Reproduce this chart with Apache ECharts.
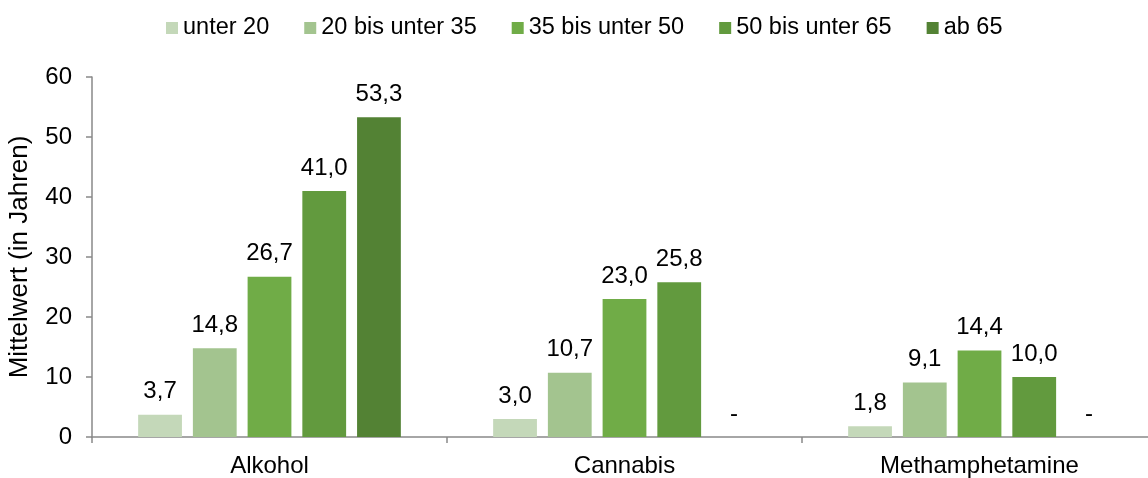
<!DOCTYPE html>
<html>
<head>
<meta charset="utf-8">
<script src="https://cdn.jsdelivr.net/npm/echarts@6/dist/echarts.min.js"></script>
<style>
  html, body { margin: 0; padding: 0; background: #fff; }
  #chart { width: 1148px; height: 478px; }
</style>
</head>
<body>
<div id="chart"></div>
<script>
// Substances on the x axis
const categories = ['Alkohol', 'Cannabis', 'Methamphetamine'];
// Age groups (legend entries)
const ageGroups = ['unter 20', '20 bis unter 35', '35 bis unter 50', '50 bis unter 65', 'ab 65'];
// Mean values (in years) per age group; null = no value ("-")
const unter20 = [3.7, 3.0, 1.8];
const von20bis35 = [14.8, 10.7, 9.1];
const von35bis50 = [26.7, 23.0, 14.4];
const von50bis65 = [41.0, 25.8, 10.0];
const ab65 = [53.3, null, null];
// Y axis ticks
const yTicks = [0, 10, 20, 30, 40, 50, 60];

const seriesValues = [unter20, von20bis35, von35bis50, von50bis65, ab65];
const colors = ['#c4d8b9', '#a3c48f', '#70ac47', '#629a3e', '#538234'];
const FONT = 'Liberation Sans, Arial, sans-serif';
const fmt = v => v.toFixed(1).replace('.', ',');

const chart = echarts.init(document.getElementById('chart'));
chart.setOption({
  animation: false,
  textStyle: { fontFamily: FONT, color: '#000' },
  legend: {
    left: 161,
    top: 11,
    itemWidth: 12,
    itemHeight: 12,
    itemGap: 35,
    icon: 'rect',
    textStyle: { fontFamily: FONT, fontSize: 23.5, color: '#000' },
    data: ageGroups
  },
  // plot area runs slightly past the right edge of the canvas
  grid: {
    left: 92, width: 1065, top: 77, bottom: 41,
    containLabel: false,
    outerBoundsMode: 'none'
  },
  xAxis: {
    type: 'category',
    data: categories,
    axisLine: { lineStyle: { color: '#898989', width: 1.5 } },
    axisTick: { show: true, length: 6, lineStyle: { color: '#898989', width: 1.5 } },
    axisLabel: { fontFamily: FONT, fontSize: 24, color: '#000', margin: 17 }
  },
  yAxis: {
    type: 'value',
    min: yTicks[0],
    max: yTicks[yTicks.length - 1],
    interval: yTicks[1] - yTicks[0],
    name: 'Mittelwert (in Jahren)',
    nameLocation: 'middle',
    nameGap: 59,
    nameTextStyle: { fontFamily: FONT, fontSize: 26, color: '#000' },
    axisLine: { show: true, lineStyle: { color: '#898989', width: 1.5 } },
    axisTick: { show: true, length: 6, lineStyle: { color: '#898989', width: 1.5 } },
    splitLine: { show: false },
    axisLabel: { fontFamily: FONT, fontSize: 24, color: '#000', margin: 20 }
  },
  series: ageGroups.map((name, i) => ({
    name,
    type: 'bar',
    barGap: '25%',
    barCategoryGap: '26%',
    itemStyle: { color: colors[i] },
    label: {
      show: true,
      position: 'top',
      distance: 11,
      fontFamily: FONT,
      fontSize: 24,
      color: '#000',
      formatter: p => fmt(p.value)
    },
    data: seriesValues[i].map(v => v === null
      ? { value: 0, label: { formatter: '-' } }
      : v)
  }))
});
</script>
</body>
</html>
